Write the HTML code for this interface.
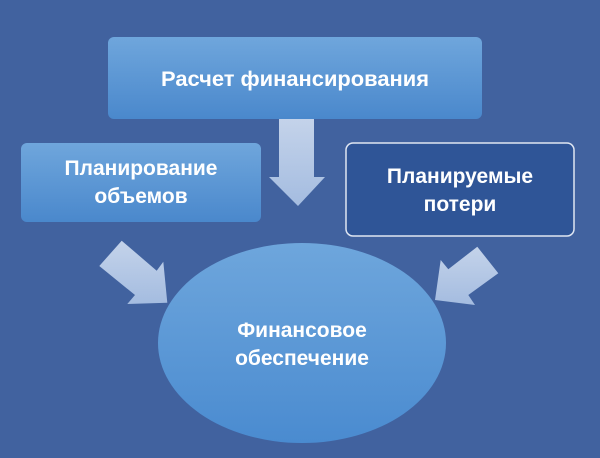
<!DOCTYPE html>
<html><head><meta charset="utf-8"><style>
body{margin:0;width:600px;height:453px;background:#41629f;overflow:hidden;font-family:"Liberation Sans","DejaVu Sans",sans-serif}
</style></head><body>
<svg width="600" height="453" xmlns="http://www.w3.org/2000/svg">
<defs>
<linearGradient id="g" x1="0" y1="0" x2="0" y2="1"><stop offset="0" stop-color="#6fa6dc"/><stop offset="1" stop-color="#4a88cc"/></linearGradient>
<linearGradient id="a" x1="0" y1="0" x2="0" y2="1"><stop offset="0" stop-color="#c4d3ea"/><stop offset="1" stop-color="#a4bce0"/></linearGradient>
<linearGradient id="e" x1="0" y1="0" x2="0" y2="1"><stop offset="0" stop-color="#6ea6dc"/><stop offset="1" stop-color="#4a8bd0"/></linearGradient>
</defs>
<rect x="0" y="0" width="600" height="453" fill="#41629f"/>
<rect x="108" y="37" width="374" height="82" rx="6" fill="url(#g)"/>
<rect x="21" y="143" width="240" height="79" rx="6" fill="url(#g)"/>
<rect x="346" y="143" width="228" height="93" rx="7" fill="#2f5597" stroke="#dfe6f2" stroke-width="1.5"/>
<polygon points="279,119 314,119 314,177 325,177 298,206 269,177 279,177" fill="url(#a)"/>
<polygon points="99.3,266 121.7,240.7 156.7,270.7 163.3,261.7 167.3,302.7 127.3,304 135,295" fill="url(#a)"/>
<polygon points="498.3,273.3 477.3,246.7 448.3,269.3 440.7,260 435,300 475,305 468.3,295" fill="url(#a)"/>
<ellipse cx="302" cy="343" rx="144" ry="100" fill="url(#e)"/>
<g fill="#fff" font-weight="bold" font-size="21" text-anchor="middle">
<text x="295" y="86" textLength="268" lengthAdjust="spacingAndGlyphs">Расчет финансирования</text>
<text x="141" y="175">Планирование</text>
<text x="141" y="203">объемов</text>
<text x="460" y="183">Планируемые</text>
<text x="460" y="211">потери</text>
<text x="302" y="337">Финансовое</text>
<text x="302" y="365">обеспечение</text>
</g>
</svg>
</body></html>
